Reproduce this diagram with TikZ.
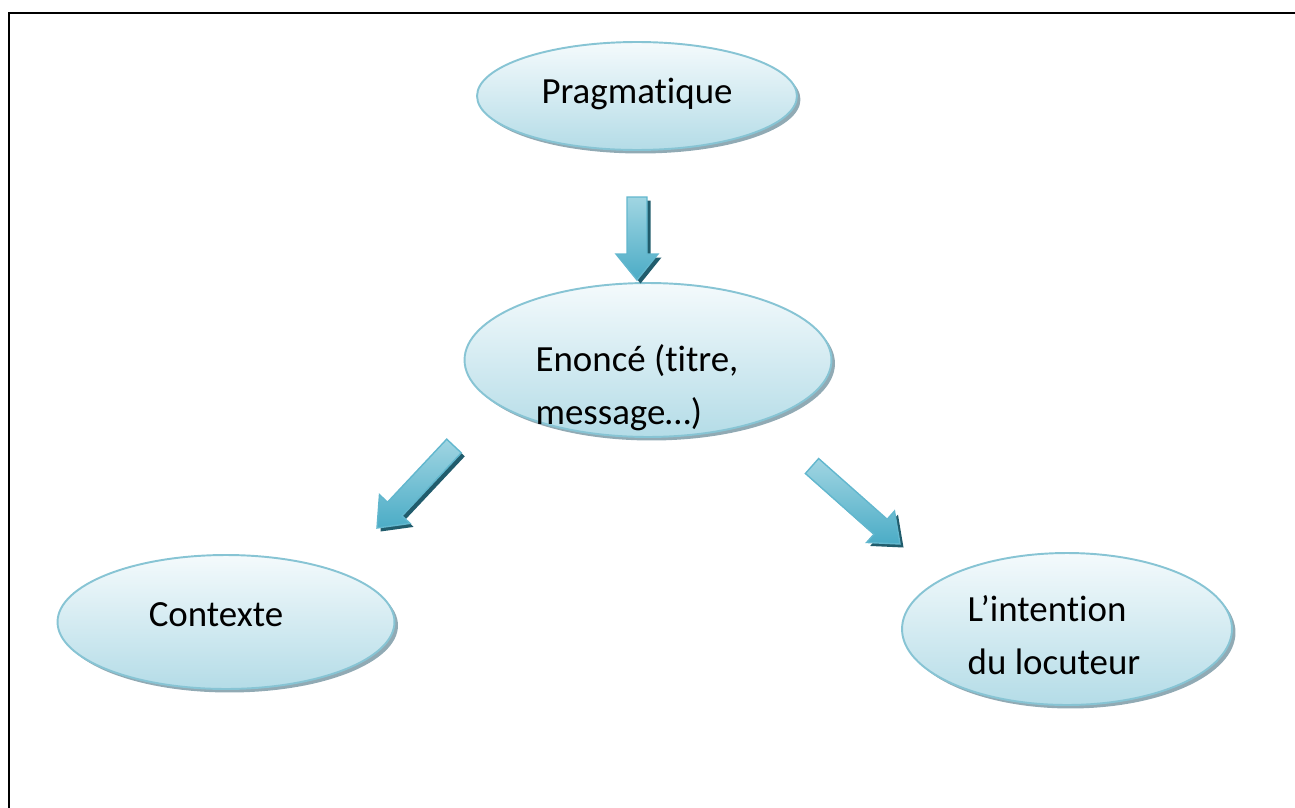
\documentclass[tikz,border=0pt]{standalone}
\usepackage{fontspec}
\setmainfont{Carlito}[Ligatures={NoCommon}]
\usetikzlibrary{calc,shapes.geometric,shadows}

\definecolor{bubbleline}{RGB}{135,196,212}
\definecolor{bubbletop}{RGB}{244,250,252}
\definecolor{bubblebottom}{RGB}{180,220,231}
\definecolor{bubbleshadow}{RGB}{145,170,180}
\definecolor{arrowlight}{RGB}{160,213,226}
\definecolor{arrowmid}{RGB}{75,172,198}
\definecolor{arrowline}{RGB}{98,183,206}
\definecolor{arrowdark}{RGB}{33,92,108}

\tikzset{
	bubble/.style={ellipse, draw=bubbleline, line width=1.1pt,
		top color=bubbletop, bottom color=bubblebottom, inner sep=0pt,
		drop shadow={shadow xshift=0.07cm, shadow yshift=-0.07cm, fill=bubbleshadow, opacity=1}},
	bubbletext/.style={font=\fontsize{21}{30}\selectfont, align=left, inner sep=0pt},
	arrowbody/.style={draw=arrowline, line width=0.8pt, line join=miter,
		top color=arrowlight, bottom color=arrowmid},
	arrowshadow/.style={fill=arrowdark, transform canvas={shift={(0.07cm,-0.07cm)}}}
}

% block arrow from tail #1 to tip #2
\newcommand{\blockarrow}[2]{%
	\coordinate (hb) at ($(#2)!0.52cm!(#1)$);
	\foreach \sty in {arrowshadow,arrowbody}
	\path[\sty] ($(#1)!0.2cm!90:(#2)$) -- ($(hb)!0.2cm!90:(#2)$) -- ($(hb)!0.42cm!90:(#2)$)
		-- (#2) -- ($(hb)!0.42cm!-90:(#2)$) -- ($(hb)!0.2cm!-90:(#2)$) -- ($(#1)!0.2cm!-90:(#2)$) -- cycle;
}

\begin{document}
\begin{tikzpicture}[x=0.02cm,y=-0.02cm]
		\useasboundingbox (0,0) rectangle (1295,808);
		
		%frame
		\draw[line width=1.4pt] (9,13) rectangle (1330,840);
		
		%bubbles
		\node[bubble, minimum width=6.4cm, minimum height=2.16cm] (prag) at (637,96) {};
		\node[bubble, minimum width=7.34cm, minimum height=3.08cm] (enonce) at (648,360) {};
		\node[bubble, minimum width=6.74cm, minimum height=2.68cm] (contexte) at (226,622) {};
		\node[bubble, minimum width=6.6cm, minimum height=3.04cm] (intention) at (1067,629) {};
		
		%texts
		\node[bubbletext] (pragText) at ($(prag)+(0,-2)$) {Pragmatique};
		\node[bubbletext] (enonceText) at ($(enonce)+(-11,28)$) {Enoncé (titre,\\message…)};
		\node[bubbletext] (contexteText) at ($(contexte)+(-10,-7)$) {Contexte};
		\node[bubbletext] (intentionText) at ($(intention)+(-13,6)$) {L’intention\\du locuteur};
		
		%arrows
		\coordinate (pragTail) at (637,197);
		\coordinate (pragTip) at (637,280);
		\coordinate (ctxTail) at (454,446);
		\coordinate (ctxTip) at (377,528);
		\coordinate (intTail) at (812,466);
		\coordinate (intTip) at (900,544);
		
		\blockarrow{pragTail}{pragTip}
		\blockarrow{ctxTail}{ctxTip}
		\blockarrow{intTail}{intTip}
		
\end{tikzpicture}
\end{document}
